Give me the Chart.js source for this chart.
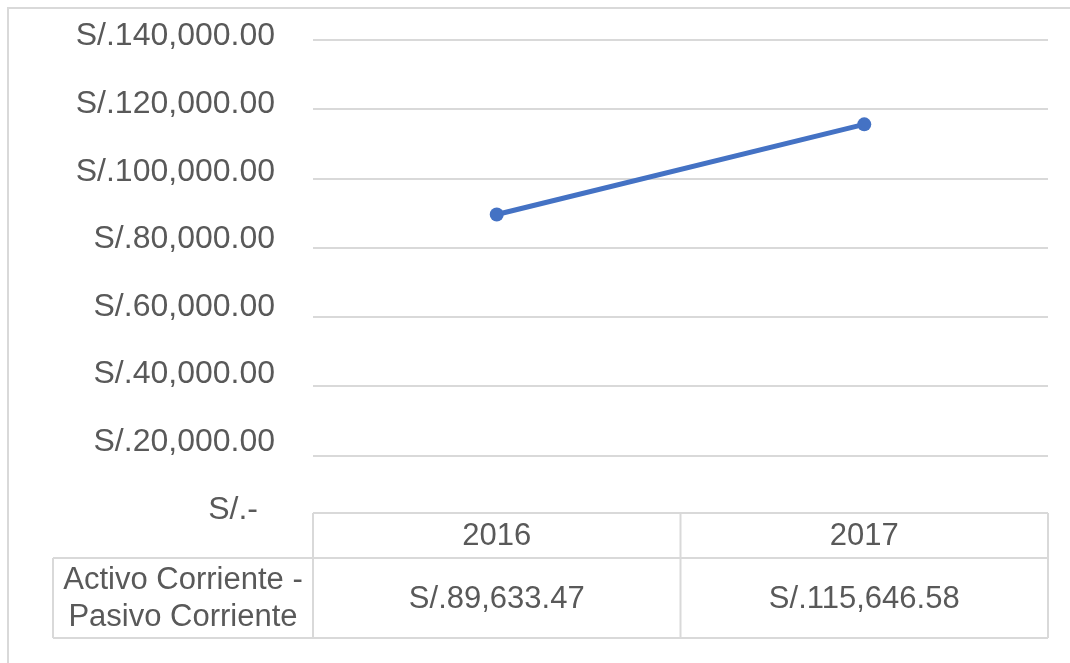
<!DOCTYPE html>
<html>
<head>
<meta charset="utf-8">
<script src="https://cdn.jsdelivr.net/npm/chart.js@4.4.1/dist/chart.umd.min.js"></script>
<style>
  html, body { margin: 0; padding: 0; background: #fff; overflow: hidden; }
  #wrap { width: 1070px; height: 663px; }
</style>
</head>
<body>
<div id="wrap"><canvas id="myChart" width="1070" height="663"></canvas></div>
<script>
// data
const years = ['2016', '2017'];
const capitalTrabajo = [89633.47, 115646.58];
const seriesLabel = ['Activo Corriente -', 'Pasivo Corriente'];
const yTickLabels = ['S/.-', 'S/.20,000.00', 'S/.40,000.00', 'S/.60,000.00',
  'S/.80,000.00', 'S/.100,000.00', 'S/.120,000.00', 'S/.140,000.00'];

const FONT = '"Liberation Sans", Arial, sans-serif';
const TEXT = '#595959';
const LINE = '#d9d9d9';

function soles(v) {
  return 'S/.' + v.toLocaleString('en-US', {minimumFractionDigits: 2, maximumFractionDigits: 2});
}

// frame, y labels (Excel spaces them a bit tighter than the gridlines) and the data table
const dataTable = {
  id: 'dataTable',
  beforeDraw(chart) {
    const ctx = chart.ctx;
    ctx.save();
    ctx.strokeStyle = LINE;
    ctx.lineWidth = 2;
    ctx.beginPath();
    ctx.moveTo(8, chart.height);
    ctx.lineTo(8, 8);
    ctx.lineTo(chart.width, 8);
    ctx.stroke();
    ctx.restore();
  },
  afterDraw(chart) {
    const {ctx} = chart;
    const x = chart.scales.x, y = chart.scales.y;
    const zero = y.getPixelForValue(0);

    ctx.save();
    ctx.fillStyle = TEXT;
    ctx.textBaseline = 'middle';
    ctx.textAlign = 'right';
    ctx.font = '32px ' + FONT;
    y.ticks.forEach((t, i) => {
      const py = y.top + (y.getPixelForValue(t.value) - y.top) * 0.976 - 3.5;
      ctx.fillText(yTickLabels[i], i === 0 ? 258 : 275, py);
    });

    const top = zero - 12, mid = zero + 33, bottom = zero + 113;
    const labelLeft = 53;
    const cols = [x.left];
    for (let i = 0; i < years.length - 1; i++) {
      cols.push((x.getPixelForValue(i) + x.getPixelForValue(i + 1)) / 2);
    }
    cols.push(x.right);

    ctx.strokeStyle = LINE;
    ctx.lineWidth = 2;
    ctx.beginPath();
    ctx.moveTo(x.left, top); ctx.lineTo(x.right, top);
    ctx.moveTo(labelLeft, mid); ctx.lineTo(x.right, mid);
    ctx.moveTo(labelLeft, bottom); ctx.lineTo(x.right, bottom);
    cols.forEach(c => { ctx.moveTo(c, top); ctx.lineTo(c, bottom); });
    ctx.moveTo(labelLeft, mid); ctx.lineTo(labelLeft, bottom);
    ctx.stroke();

    ctx.font = '31px ' + FONT;
    ctx.textAlign = 'center';
    years.forEach((yr, i) => {
      const cx = x.getPixelForValue(i);
      ctx.fillText(yr, cx, (top + mid) / 2 + 1);
      ctx.fillText(soles(capitalTrabajo[i]), cx, (mid + bottom) / 2 + 1);
    });
    const lc = (labelLeft + x.left) / 2;
    ctx.fillText(seriesLabel[0], lc, (mid + bottom) / 2 - 18);
    ctx.fillText(seriesLabel[1], lc, (mid + bottom) / 2 + 19);
    ctx.restore();
  }
};

new Chart(document.getElementById('myChart').getContext('2d'), {
  type: 'line',
  data: {
    labels: years,
    datasets: [{
      label: seriesLabel.join(' '),
      data: capitalTrabajo,
      borderColor: '#4472C4',
      backgroundColor: '#4472C4',
      borderWidth: 5,
      pointRadius: 7,
      pointBorderWidth: 0,
      tension: 0
    }]
  },
  options: {
    responsive: false,
    animation: false,
    layout: { padding: { left: 0, top: 40, right: 22, bottom: 138 } },
    plugins: { legend: { display: false }, tooltip: { enabled: false } },
    scales: {
      x: { display: false, offset: true },
      y: {
        min: 0, max: 140000,
        border: { display: false },
        grid: {
          drawTicks: false,
          lineWidth: 2,
          color: c => c.tick && c.tick.value === 0 ? 'rgba(0,0,0,0)' : LINE
        },
        ticks: {
          stepSize: 20000,
          padding: 38,
          color: TEXT,
          font: { family: FONT, size: 32 },
          callback: () => ''
        },
        afterFit: s => { s.width = 313; s.paddingTop = 0; s.paddingBottom = 0; }
      }
    }
  },
  plugins: [dataTable]
});
</script>
</body>
</html>
